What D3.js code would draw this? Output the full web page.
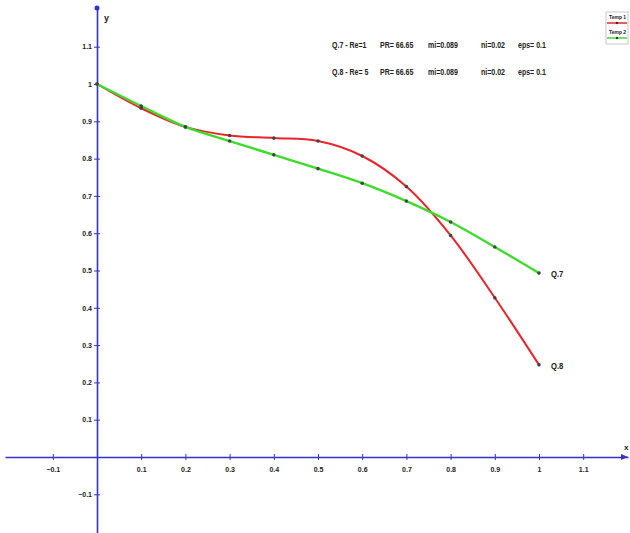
<!DOCTYPE html>
<html>
<head>
<meta charset="utf-8">
<style>
  body { margin: 0; background: #fff; }
  svg { display: block; }
  text { font-family: "Liberation Sans Narrow", "Arial Narrow", "Liberation Sans", sans-serif; fill: #222; }
</style>
</head>
<body>
<svg width="630" height="533"></svg>
<script src="https://d3js.org/d3.v7.min.js"></script>
<script>

var xs = [0, 0.1, 0.2, 0.3, 0.4, 0.5, 0.6, 0.7, 0.8, 0.9, 1];
var q7 = [1, 0.941, 0.885, 0.847, 0.810, 0.773, 0.734, 0.686, 0.630, 0.563, 0.493];
var q8 = [1, 0.935, 0.885, 0.862, 0.855, 0.847, 0.807, 0.725, 0.594, 0.427, 0.247];

var xTicks = [-0.1, 0.1, 0.2, 0.3, 0.4, 0.5, 0.6, 0.7, 0.8, 0.9, 1, 1.1];
var yTicks = [-0.1, 0.1, 0.2, 0.3, 0.4, 0.5, 0.6, 0.7, 0.8, 0.9, 1, 1.1];

var infoLines = [
  ["Q.7 - Re=1", "PR= 66.65", "mi=0.089", "ni=0.02", "eps= 0.1"],
  ["Q.8 - Re= 5", "PR= 66.65", "mi=0.089", "ni=0.02", "eps= 0.1"]
];
var legendNames = ["Temp 1", "Temp 2"];

var svg = d3.select("svg");

var x = d3.scaleLinear().domain([0, 1]).range([97, 539]);
var y = d3.scaleLinear().domain([0, 1]).range([457, 84]);

// axis scales stretched over the whole page
var xa = x.copy().domain([x.invert(5), x.invert(628)]).range([5, 628]);
var ya = y.copy().domain([y.invert(533), y.invert(8)]).range([533, 8]);

var fmt = function(d) { return d3.format("")(+d.toFixed(1)); };

var gx = svg.append("g")
  .attr("transform", "translate(0," + y(0) + ")")
  .call(d3.axisBottom(xa).tickValues(xTicks).tickSize(3).tickSizeOuter(0).tickFormat(fmt));
gx.selectAll(".tick line").attr("y1", -3).attr("y2", 3).attr("stroke", "#3333cc");
gx.selectAll(".tick text").attr("y", 10).style("font-size", "7px");

var gy = svg.append("g")
  .attr("transform", "translate(" + x(0) + ",0)")
  .call(d3.axisLeft(ya).tickValues(yTicks).tickSize(3).tickSizeOuter(0).tickFormat(fmt));
gy.selectAll(".tick line").attr("x1", -3).attr("x2", 3).attr("stroke", "#3333cc");
gy.selectAll(".tick text").attr("x", -5).style("font-size", "7px");

svg.selectAll(".domain").attr("stroke", "#3333cc").attr("stroke-width", 1.6);
svg.selectAll(".tick text")
  .style("font-family", "'Liberation Sans Narrow', 'Liberation Sans', sans-serif")
  .style("font-weight", "bold")
  .attr("fill", "#333");

// axis end points
svg.append("circle").attr("cx", x(0)).attr("cy", 8).attr("r", 2.5).attr("fill", "#3333cc");
svg.append("path")
  .attr("d", "M628," + y(0) + " l-7,-3 l0,6 z")
  .attr("fill", "#3333cc");
svg.append("text").attr("x", 104).attr("y", 21).style("font-size", "9px").style("font-weight", "bold").text("y");
svg.append("text").attr("x", 624).attr("y", 450).style("font-size", "8px").style("font-weight", "bold").text("x");

var line = d3.line()
  .x(function(d, i) { return x(xs[i]); })
  .y(function(d) { return y(d); })
  .curve(d3.curveCatmullRom);

var series = [
  {name: "Q.8", vals: q8, color: "#e8242a", w: 2},
  {name: "Q.7", vals: q7, color: "#3ddc2c", w: 2.4}
];

series.forEach(function(s) {
  svg.append("path")
    .datum(s.vals)
    .attr("fill", "none")
    .attr("stroke", s.color)
    .attr("stroke-width", s.w)
    .attr("d", line);
});

series.forEach(function(s) {
  svg.selectAll(null)
    .data(s.vals)
    .enter().append("circle")
    .attr("cx", function(d, i) { return x(xs[i]); })
    .attr("cy", function(d) { return y(d); })
    .attr("r", 1.8)
    .attr("fill", "#444");
  svg.append("text")
    .attr("transform", "translate(" + (x(1) + 12) + "," + (y(s.vals[s.vals.length - 1]) + 4) + ") scale(0.85,1)")
    .style("font-size", "9px")
    .style("font-weight", "bold")
    .attr("fill", "#333")
    .text(s.name);
});

// parameters text (squeezed, the original font is a narrow one)
var colX = [332, 380, 428, 481, 518];
infoLines.forEach(function(row, r) {
  row.forEach(function(t, c) {
    svg.append("text")
      .attr("transform", "translate(" + colX[c] + "," + (48 + r * 27) + ") scale(0.78,1)")
      .style("font-size", "9px")
      .style("font-weight", "bold")
      .attr("fill", "#333")
      .text(t);
  });
});

// small legend box, top right
var lg = svg.append("g").attr("transform", "translate(606,12)");
lg.append("rect").attr("width", 22).attr("height", 32).attr("fill", "#fff").attr("stroke", "#bbb").attr("stroke-width", 0.8);
[series[0].color, series[1].color].forEach(function(c, i) {
  lg.append("text").attr("x", 3).attr("y", 7 + i * 15).style("font-size", "5px").style("font-weight", "bold").text(legendNames[i]);
  lg.append("line").attr("x1", 1).attr("x2", 21).attr("y1", 11 + i * 15).attr("y2", 11 + i * 15)
    .attr("stroke", c).attr("stroke-width", 1.5);
  lg.append("circle").attr("cx", 11).attr("cy", 11 + i * 15).attr("r", 1.2).attr("fill", "#333");
});

</script>
</body>
</html>
